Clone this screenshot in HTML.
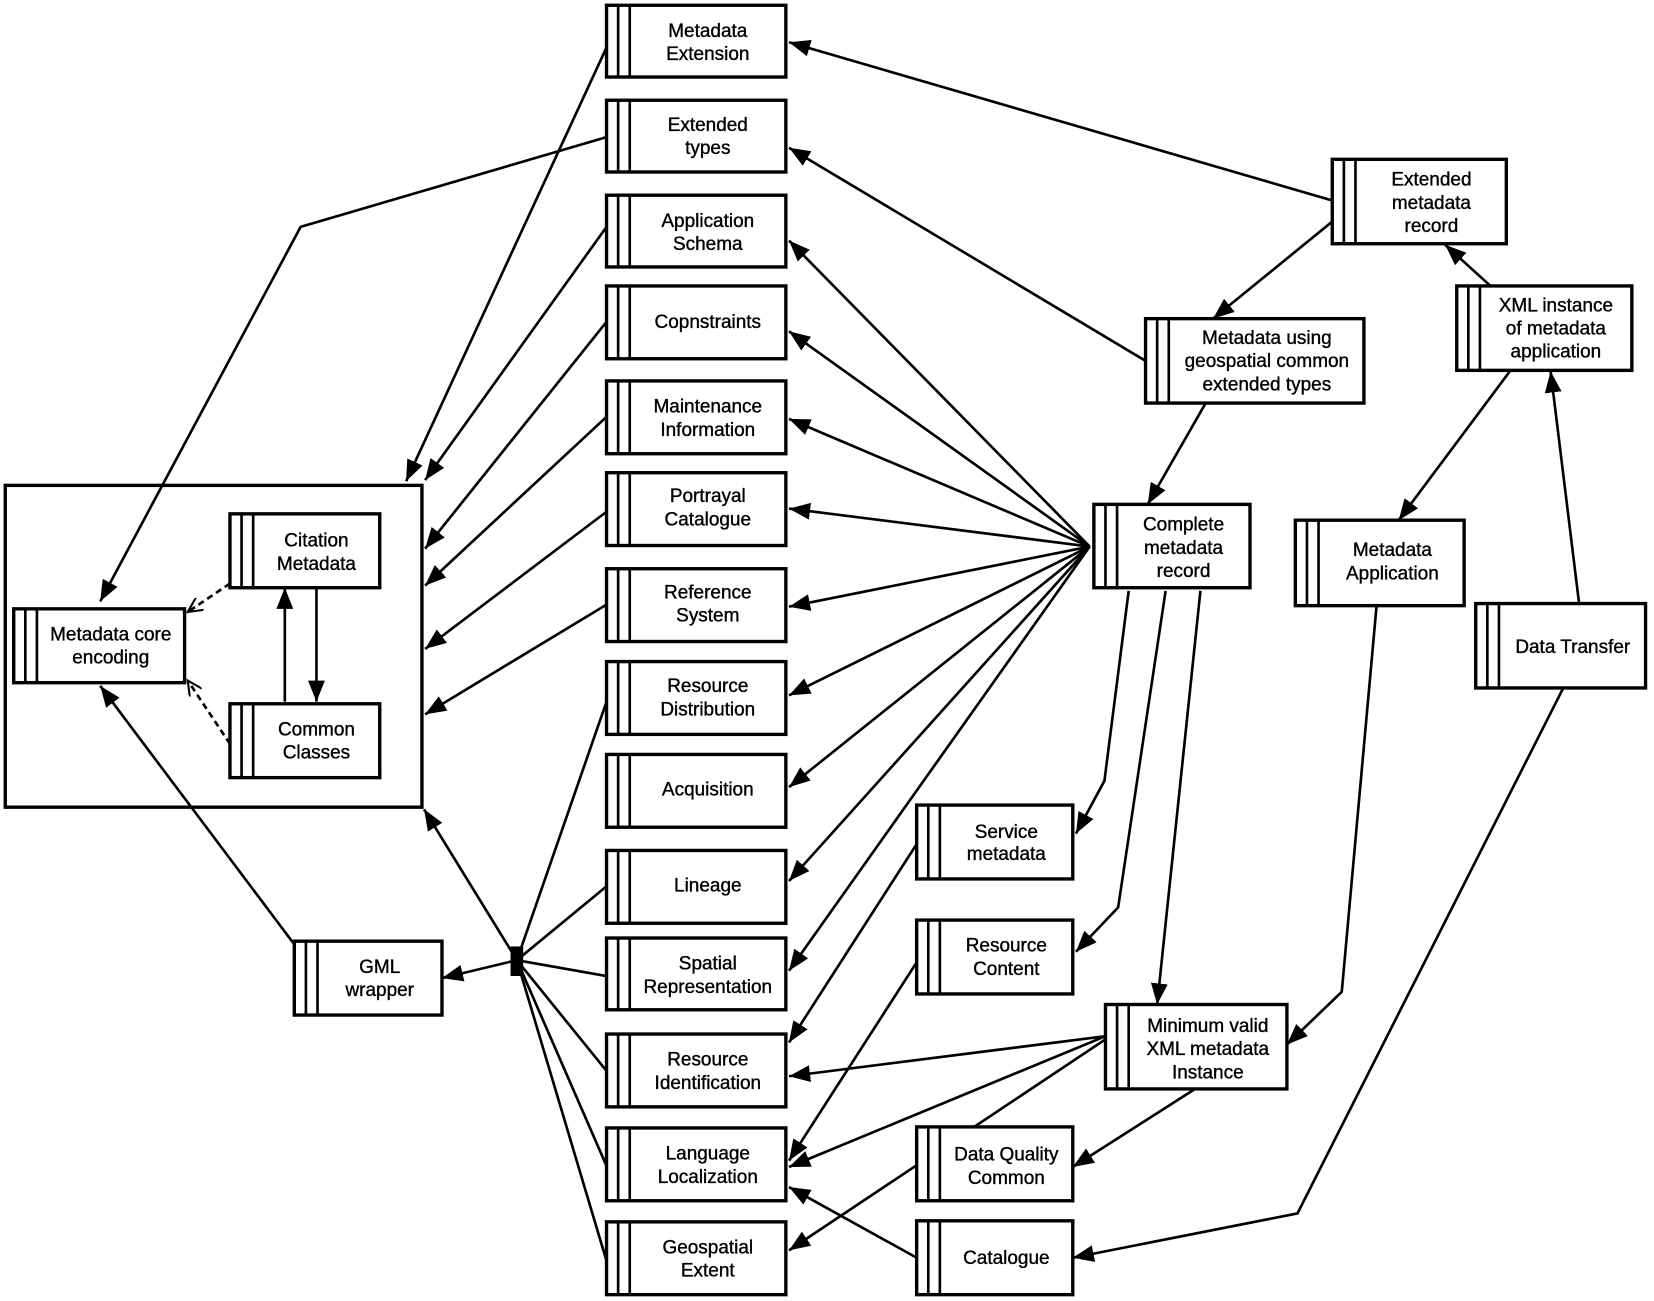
<!DOCTYPE html>
<html><head><meta charset="utf-8"><style>
html,body{margin:0;padding:0;background:#fff}
svg{display:block}
text{font-family:"Liberation Sans",Arial,sans-serif;font-size:18px;fill:#000;stroke:#000;stroke-width:0.35;text-anchor:middle}
.b{fill:#fff;stroke:#000;stroke-width:3.2}
.l{stroke:#000;stroke-width:2.5;fill:none}
</style></head><body>
<svg width="1654" height="1301" viewBox="0 0 1568 1233" preserveAspectRatio="none" xmlns="http://www.w3.org/2000/svg">
<defs>
<marker id="a" markerUnits="userSpaceOnUse" markerWidth="22" markerHeight="16" refX="20" refY="8" orient="auto"><path d="M0,0 L20,8 L0,16 z" fill="#000"/></marker>
<marker id="o" markerUnits="userSpaceOnUse" markerWidth="16" markerHeight="14" refX="14" refY="7" orient="auto"><path d="M0,0 L14,7 L0,14" fill="none" stroke="#000" stroke-width="2"/></marker>
</defs>

<rect x="5" y="460" width="395" height="305" fill="none" stroke="#000" stroke-width="3.2"/>

<g class="l" marker-end="url(#a)">
<line x1="1263" y1="190" x2="748" y2="40"/>
<line x1="1263" y1="210" x2="1150" y2="302"/>
<line x1="1413" y1="271" x2="1370" y2="232"/>
<line x1="1086" y1="342" x2="748" y2="140"/>
<line x1="1143" y1="382" x2="1088" y2="478"/>
<line x1="1432" y1="351" x2="1326" y2="493"/>
<line x1="1497" y1="572" x2="1470" y2="352"/>
<line x1="1033" y1="518" x2="748" y2="228"/>
<line x1="1033" y1="518" x2="748" y2="314"/>
<line x1="1033" y1="518" x2="748" y2="397"/>
<line x1="1033" y1="518" x2="748" y2="482"/>
<line x1="1033" y1="518" x2="748" y2="575"/>
<line x1="1033" y1="518" x2="748" y2="659"/>
<line x1="1033" y1="518" x2="748" y2="746"/>
<line x1="1033" y1="518" x2="748" y2="835"/>
<line x1="1033" y1="518" x2="748" y2="920"/>
<line x1="869" y1="800" x2="748" y2="988"/>
<line x1="869" y1="912" x2="748" y2="1100"/>
<line x1="1048" y1="982" x2="748" y2="1020"/>
<line x1="1048" y1="982" x2="748" y2="1106"/>
<line x1="1048" y1="985" x2="748" y2="1185"/>
<line x1="1133" y1="1032" x2="1017" y2="1106"/>
<polyline points="1070,560 1047,740 1020,790"/>
<polyline points="1105,560 1060,860 1020,902"/>
<polyline points="1138,560 1097,952"/>
<polyline points="1305,574 1272,940 1220,990"/>
<polyline points="1482,652 1230,1150 1017,1192"/>
<line x1="869" y1="1192" x2="748" y2="1125"/>
<line x1="575" y1="45" x2="385" y2="456"/>
<line x1="575" y1="215" x2="403" y2="455"/>
<line x1="575" y1="305" x2="403" y2="520"/>
<line x1="575" y1="395" x2="403" y2="555"/>
<line x1="575" y1="485" x2="403" y2="615"/>
<line x1="575" y1="573" x2="403" y2="677"/>
<polyline points="575,130 285,215 95,570"/>
<line x1="490" y1="910" x2="419" y2="927"/>
<line x1="490" y1="910" x2="402" y2="767"/>
<line x1="279" y1="895" x2="95" y2="650"/>
<line x1="270" y1="665" x2="270" y2="557"/>
<line x1="300" y1="557" x2="300" y2="665"/>
</g>
<g class="l">
<line x1="490" y1="910" x2="575" y2="665"/>
<line x1="490" y1="910" x2="575" y2="840"/>
<line x1="490" y1="910" x2="575" y2="925"/>
<line x1="490" y1="910" x2="575" y2="1015"/>
<line x1="490" y1="910" x2="575" y2="1105"/>
<line x1="490" y1="910" x2="575" y2="1195"/>
</g>
<rect x="484" y="897" width="12" height="28" fill="#000"/>
<g class="l" stroke-dasharray="6,4" marker-end="url(#o)">
<line x1="218" y1="553" x2="178" y2="580"/>
<line x1="218" y1="705" x2="178" y2="645"/>
</g>

<g>
<g><rect class="b" x="575" y="5" width="170" height="68"/><line class="l" x1="586" y1="5" x2="586" y2="73"/><line class="l" x1="597" y1="5" x2="597" y2="73"/><text x="671" y="35">Metadata</text><text x="671" y="57">Extension</text></g>
<g><rect class="b" x="575" y="95" width="170" height="68"/><line class="l" x1="586" y1="95" x2="586" y2="163"/><line class="l" x1="597" y1="95" x2="597" y2="163"/><text x="671" y="124">Extended</text><text x="671" y="146">types</text></g>
<g><rect class="b" x="575" y="185" width="170" height="68"/><line class="l" x1="586" y1="185" x2="586" y2="253"/><line class="l" x1="597" y1="185" x2="597" y2="253"/><text x="671" y="215">Application</text><text x="671" y="237">Schema</text></g>
<g><rect class="b" x="575" y="271" width="170" height="69"/><line class="l" x1="586" y1="271" x2="586" y2="340"/><line class="l" x1="597" y1="271" x2="597" y2="340"/><text x="671" y="311">Copnstraints</text></g>
<g><rect class="b" x="575" y="361" width="170" height="69"/><line class="l" x1="586" y1="361" x2="586" y2="430"/><line class="l" x1="597" y1="361" x2="597" y2="430"/><text x="671" y="391">Maintenance</text><text x="671" y="413">Information</text></g>
<g><rect class="b" x="575" y="448" width="170" height="69"/><line class="l" x1="586" y1="448" x2="586" y2="517"/><line class="l" x1="597" y1="448" x2="597" y2="517"/><text x="671" y="476">Portrayal</text><text x="671" y="498">Catalogue</text></g>
<g><rect class="b" x="575" y="539" width="170" height="69"/><line class="l" x1="586" y1="539" x2="586" y2="608"/><line class="l" x1="597" y1="539" x2="597" y2="608"/><text x="671" y="567">Reference</text><text x="671" y="589">System</text></g>
<g><rect class="b" x="575" y="627" width="170" height="69"/><line class="l" x1="586" y1="627" x2="586" y2="696"/><line class="l" x1="597" y1="627" x2="597" y2="696"/><text x="671" y="656">Resource</text><text x="671" y="678">Distribution</text></g>
<g><rect class="b" x="575" y="715" width="170" height="69"/><line class="l" x1="586" y1="715" x2="586" y2="784"/><line class="l" x1="597" y1="715" x2="597" y2="784"/><text x="671" y="754">Acquisition</text></g>
<g><rect class="b" x="575" y="806" width="170" height="69"/><line class="l" x1="586" y1="806" x2="586" y2="875"/><line class="l" x1="597" y1="806" x2="597" y2="875"/><text x="671" y="845">Lineage</text></g>
<g><rect class="b" x="575" y="889" width="170" height="68"/><line class="l" x1="586" y1="889" x2="586" y2="957"/><line class="l" x1="597" y1="889" x2="597" y2="957"/><text x="671" y="919">Spatial</text><text x="671" y="941">Representation</text></g>
<g><rect class="b" x="575" y="980" width="170" height="69"/><line class="l" x1="586" y1="980" x2="586" y2="1049"/><line class="l" x1="597" y1="980" x2="597" y2="1049"/><text x="671" y="1010">Resource</text><text x="671" y="1032">Identification</text></g>
<g><rect class="b" x="575" y="1069" width="170" height="69"/><line class="l" x1="586" y1="1069" x2="586" y2="1138"/><line class="l" x1="597" y1="1069" x2="597" y2="1138"/><text x="671" y="1099">Language</text><text x="671" y="1121">Localization</text></g>
<g><rect class="b" x="575" y="1158" width="170" height="69"/><line class="l" x1="586" y1="1158" x2="586" y2="1227"/><line class="l" x1="597" y1="1158" x2="597" y2="1227"/><text x="671" y="1188">Geospatial</text><text x="671" y="1210">Extent</text></g>

<g><rect class="b" x="218" y="487" width="142" height="70"/><line class="l" x1="229" y1="487" x2="229" y2="557"/><line class="l" x1="240" y1="487" x2="240" y2="557"/><text x="300" y="518">Citation</text><text x="300" y="540">Metadata</text></g>
<g><rect class="b" x="13" y="577" width="162" height="70"/><line class="l" x1="24" y1="577" x2="24" y2="647"/><line class="l" x1="35" y1="577" x2="35" y2="647"/><text x="105" y="607">Metadata core</text><text x="105" y="629">encoding</text></g>
<g><rect class="b" x="218" y="667" width="142" height="70"/><line class="l" x1="229" y1="667" x2="229" y2="737"/><line class="l" x1="240" y1="667" x2="240" y2="737"/><text x="300" y="697">Common</text><text x="300" y="719">Classes</text></g>
<g><rect class="b" x="279" y="892" width="140" height="70"/><line class="l" x1="290" y1="892" x2="290" y2="962"/><line class="l" x1="301" y1="892" x2="301" y2="962"/><text x="360" y="922">GML</text><text x="360" y="944">wrapper</text></g>

<g><rect class="b" x="1263" y="151" width="165" height="80"/><line class="l" x1="1274" y1="151" x2="1274" y2="231"/><line class="l" x1="1285" y1="151" x2="1285" y2="231"/><text x="1357" y="176">Extended</text><text x="1357" y="198">metadata</text><text x="1357" y="220">record</text></g>
<g><rect class="b" x="1086" y="302" width="207" height="80"/><line class="l" x1="1097" y1="302" x2="1097" y2="382"/><line class="l" x1="1108" y1="302" x2="1108" y2="382"/><text x="1201" y="326">Metadata using</text><text x="1201" y="348">geospatial common</text><text x="1201" y="370">extended types</text></g>
<g><rect class="b" x="1381" y="271" width="166" height="80"/><line class="l" x1="1392" y1="271" x2="1392" y2="351"/><line class="l" x1="1403" y1="271" x2="1403" y2="351"/><text x="1475" y="295">XML instance</text><text x="1475" y="317">of metadata</text><text x="1475" y="339">application</text></g>
<g><rect class="b" x="1037" y="478" width="148" height="79"/><line class="l" x1="1048" y1="478" x2="1048" y2="557"/><line class="l" x1="1059" y1="478" x2="1059" y2="557"/><text x="1122" y="503">Complete</text><text x="1122" y="525">metadata</text><text x="1122" y="547">record</text></g>
<g><rect class="b" x="1228" y="493" width="160" height="81"/><line class="l" x1="1239" y1="493" x2="1239" y2="574"/><line class="l" x1="1250" y1="493" x2="1250" y2="574"/><text x="1320" y="527">Metadata</text><text x="1320" y="549">Application</text></g>
<g><rect class="b" x="1399" y="572" width="161" height="80"/><line class="l" x1="1410" y1="572" x2="1410" y2="652"/><line class="l" x1="1421" y1="572" x2="1421" y2="652"/><text x="1491" y="619">Data Transfer</text></g>
<g><rect class="b" x="869" y="763" width="148" height="70"/><line class="l" x1="880" y1="763" x2="880" y2="833"/><line class="l" x1="891" y1="763" x2="891" y2="833"/><text x="954" y="794">Service</text><text x="954" y="815">metadata</text></g>
<g><rect class="b" x="869" y="872" width="148" height="70"/><line class="l" x1="880" y1="872" x2="880" y2="942"/><line class="l" x1="891" y1="872" x2="891" y2="942"/><text x="954" y="902">Resource</text><text x="954" y="924">Content</text></g>
<g><rect class="b" x="1048" y="952" width="172" height="80"/><line class="l" x1="1059" y1="952" x2="1059" y2="1032"/><line class="l" x1="1070" y1="952" x2="1070" y2="1032"/><text x="1145" y="978">Minimum valid</text><text x="1145" y="1000">XML metadata</text><text x="1145" y="1022">Instance</text></g>
<g><rect class="b" x="869" y="1068" width="148" height="70"/><line class="l" x1="880" y1="1068" x2="880" y2="1138"/><line class="l" x1="891" y1="1068" x2="891" y2="1138"/><text x="954" y="1100">Data Quality</text><text x="954" y="1122">Common</text></g>
<g><rect class="b" x="869" y="1157" width="148" height="70"/><line class="l" x1="880" y1="1157" x2="880" y2="1227"/><line class="l" x1="891" y1="1157" x2="891" y2="1227"/><text x="954" y="1198">Catalogue</text></g>
</g>
</svg>
</body></html>
